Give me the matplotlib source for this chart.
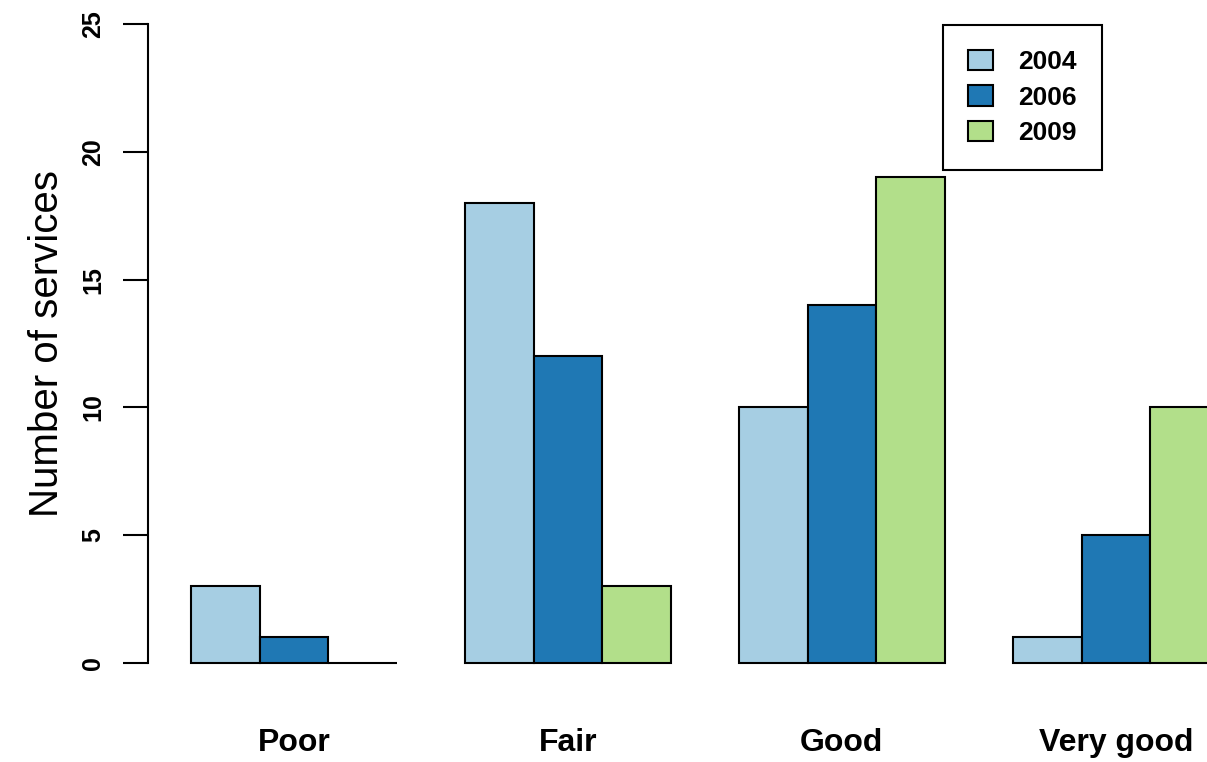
import numpy as np
import matplotlib
matplotlib.use("Agg")
import matplotlib.pyplot as plt
from matplotlib.patches import Patch

plt.rcParams['font.family'] = ['Liberation Sans', 'DejaVu Sans']

categories = ['Poor', 'Fair', 'Good', 'Very good']
years = ['2004', '2006', '2009']
values_2004 = [3, 18, 10, 1]
values_2006 = [1, 12, 14, 5]
values_2009 = [0, 3, 19, 10]
colors = ['#A6CEE3', '#1F78B4', '#B2DF8A']
y_ticks = [0, 5, 10, 15, 20, 25]

W, H = 1207, 762
fig = plt.figure(figsize=(W / 100, H / 100), dpi=100)
# axes spans from the y axis line (x=148px) to the right edge, y=0..25 maps 663..24 px
ax = fig.add_axes([148 / W, (H - 663) / H, (W - 148) / W, (663 - 24) / H])

series = [values_2004, values_2006, values_2009]
n_groups = len(categories)
group_start = 1 + 4 * np.arange(n_groups)
for i, vals in enumerate(series):
    ax.bar(group_start + i, vals, width=1, align='edge', color=colors[i],
           edgecolor='black', linewidth=1.5, clip_on=False, zorder=3)

ax.set_xlim(1 - 43 / 68.5, 1 + (W - 191) / 68.5)
ax.set_ylim(0, 25)

for side in ['top', 'right', 'bottom']:
    ax.spines[side].set_visible(False)
ax.spines['left'].set_linewidth(1.5)
ax.spines['left'].set_bounds(0, 25)

ax.set_yticks(y_ticks)
ax.set_yticklabels([str(t) for t in y_ticks], rotation=90, va='center',
                   fontsize=18, fontweight='bold')
ax.tick_params(axis='y', length=18, width=1.5, pad=13)

ax.set_xticks(group_start + 1.5)
ax.set_xticklabels(categories, fontsize=23, fontweight='bold')
ax.tick_params(axis='x', length=0, pad=47)

ax.set_ylabel('Number of services', fontsize=29, labelpad=11)

handles = [Patch(facecolor=c, edgecolor='black', linewidth=1.5) for c in colors]
leg = ax.legend(handles, years, loc='upper left',
                bbox_to_anchor=(943 / W, 1 - 25 / H), bbox_transform=fig.transFigure,
                prop={'size': 19, 'weight': 'bold'}, fancybox=False, framealpha=1,
                edgecolor='black', handlelength=0.95, handleheight=0.8,
                handletextpad=0.95, labelspacing=0.42, borderpad=0.95, borderaxespad=0)
leg.get_frame().set_linewidth(1.5)

fig.savefig('out.png', dpi=100)
